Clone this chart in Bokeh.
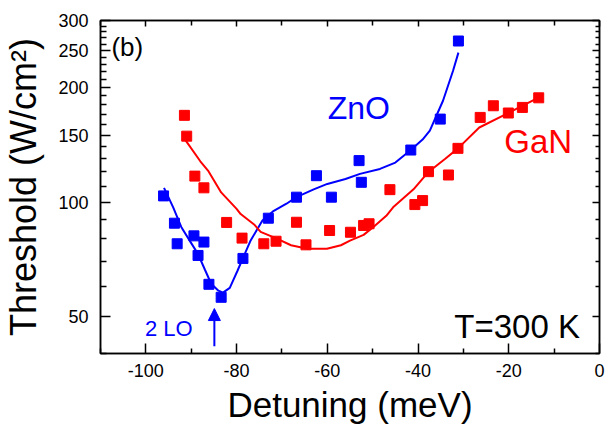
from bokeh.plotting import figure
from bokeh.models import (Range1d, FixedTicker, LinearAxis, LogAxis, Label, Arrow,
                          NormalHead, PrintfTickFormatter, CustomJSTickFormatter)
from bokeh.embed import file_html
from bokeh.resources import INLINE

# ---- data ----
gan_x = [-91.5, -91.0, -89.2, -87.2, -82.2, -78.8, -74.0, -71.3, -66.8, -64.7, -59.5, -54.9,
         -52.0, -50.8, -46.2, -40.7, -39.0, -37.7, -33.3, -31.2, -26.3, -23.4, -20.1, -17.0, -13.4]
gan_y = [169, 149, 117, 109, 88.4, 80.4, 77.7, 78.9, 88.5, 77.2, 84.2, 83.3,
         86.8, 87.7, 107.8, 98.5, 100.9, 120.2, 117.8, 138.4, 166.9, 179.1, 171.4, 177.3, 187.9]

zno_x = [-96.1, -93.7, -93.1, -89.4, -88.5, -87.2, -86.1, -83.4, -78.6, -73.0, -66.8, -62.4,
         -59.1, -53.0, -52.5, -41.6, -35.1, -31.1]
zno_y = [103.8, 88.0, 77.7, 81.5, 72.4, 78.5, 60.8, 56.2, 71.1, 90.7, 103.0, 117.3,
         103.0, 128.5, 112.7, 137.0, 165.2, 265.0]

zno_fit_x = [-96.0, -94.0, -92.2, -90.0, -88.5, -87.0, -85.6, -84.0, -83.0, -81.5, -79.8, -78.0,
             -76.9, -74.3, -72.0, -69.0, -66.8, -63.0, -60.0, -56.0, -52.8, -48.4, -45.0,
             -41.6, -39.0, -37.4, -34.5, -32.3, -31.1]
zno_fit_y = [109, 97, 86, 78, 73, 66.5, 61, 58.5, 57.8, 59.5, 66, 74,
             79.3, 89.4, 94.5, 99, 103, 108, 111.6, 115, 118.6, 122.2, 127,
             137, 146, 154, 184.6, 221, 247]

gan_fit_x = [-91.2, -88.0, -86.3, -83.4, -80.0, -79.1, -76.0, -74.7, -71.0, -68.0, -64.4, -60.1,
             -57.0, -55.0, -52.0, -49.9, -47.0, -45.5, -41.0, -37.7, -34.0, -31.2, -26.5, -20.6, -14.1]
gan_fit_y = [145, 128, 121, 106, 96, 93, 87, 83.5, 80, 77, 75.4, 75.4,
             77, 79.2, 82, 85.9, 92, 96.9, 108, 120, 130, 138.4, 157, 170.3, 186.5]

x_major = [-100, -80, -60, -40, -20, 0]
x_minor = [-110, -90, -70, -50, -30, -10]
y_major = [50, 100, 150, 200, 250, 300]
y_minor = [40, 60, 70, 80, 90, 110, 120, 130, 140, 160, 170, 180, 190,
           210, 220, 230, 240, 260, 270, 280, 290]

FONT = "Liberation Sans"
RED = "#ff0000"
BLUE = "#0000ff"

p = figure(output_backend="svg", toolbar_location=None, y_axis_type="log",
           frame_width=499, frame_height=333,
           min_border_left=99, min_border_right=7, min_border_top=20, min_border_bottom=71,
           x_range=Range1d(-110, 0), y_range=Range1d(40, 300))
p.xgrid.visible = False
p.ygrid.visible = False
p.outline_line_color = "black"
p.outline_line_width = 1.5
p.background_fill_color = "white"
p.border_fill_color = "white"

def style_axis(ax, major_in, minor_in):
    ax.axis_line_color = "black"
    ax.axis_line_width = 1.5
    ax.major_tick_line_color = "black"
    ax.minor_tick_line_color = "black"
    ax.major_tick_line_width = 1.5
    ax.minor_tick_line_width = 1.5
    ax.major_tick_in = major_in
    ax.major_tick_out = 0
    ax.minor_tick_in = minor_in
    ax.minor_tick_out = 0
    ax.major_label_text_font = FONT
    ax.major_label_text_font_size = "18px"
    ax.major_label_text_color = "black"
    ax.axis_label_text_font = FONT
    ax.axis_label_text_font_style = "normal"
    ax.axis_label_text_color = "black"

xb = p.xaxis[0]
xb.ticker = FixedTicker(ticks=x_major, minor_ticks=x_minor)
xb.formatter = PrintfTickFormatter(format="%d")
style_axis(xb, 10, 5)
xb.major_label_standoff = 10
xb.axis_label = "Detuning (meV)"
xb.axis_label_text_font_size = "35px"
xb.axis_label_standoff = 5

yl = p.yaxis[0]
yl.ticker = FixedTicker(ticks=y_major, minor_ticks=y_minor)
yl.formatter = PrintfTickFormatter(format="%d")
style_axis(yl, 10, 6)
yl.major_label_standoff = 12
yl.axis_label = "Threshold (W/cm²)"
yl.axis_label_text_font_size = "36px"
yl.axis_label_standoff = 11

blank = CustomJSTickFormatter(code="return ''")

xt = LinearAxis(ticker=FixedTicker(ticks=x_major, minor_ticks=x_minor), formatter=blank)
style_axis(xt, 6, 5)
xt.major_label_standoff = 0
p.add_layout(xt, "above")

yr = LogAxis(ticker=FixedTicker(ticks=y_major, minor_ticks=y_minor), formatter=blank)
style_axis(yr, 7, 4)
yr.major_label_standoff = 0
p.add_layout(yr, "right")

# fits
p.line(zno_fit_x, zno_fit_y, line_color=BLUE, line_width=2)
p.line(gan_fit_x, gan_fit_y, line_color=RED, line_width=2)
# data
p.scatter(gan_x, gan_y, marker="square", size=10, fill_color=RED, line_color=RED)
p.scatter(zno_x, zno_y, marker="square", size=10, fill_color=BLUE, line_color=BLUE)

def add_label(x, y, text, color, size):
    p.add_layout(Label(x=x, y=y, text=text, text_color=color, text_font=FONT,
                       text_font_size=size, text_baseline="alphabetic", text_align="left"))

add_label(-107.6, 256, "(b)", "black", "26px")
add_label(-59.9, 176.5, "ZnO", BLUE, "32px")
add_label(-21.0, 144.0, "GaN", RED, "33px")
add_label(-32.0, 47.0, "T=300 K", "black", "33px")
add_label(-100.2, 46.6, "2 LO", BLUE, "22px")

p.add_layout(Arrow(end=NormalHead(size=12, fill_color=BLUE, line_color=BLUE),
                   x_start=-84.9, y_start=41.8, x_end=-84.9, y_end=52.5,
                   line_color=BLUE, line_width=2))

open("out.html", "w").write(file_html(p, INLINE))
